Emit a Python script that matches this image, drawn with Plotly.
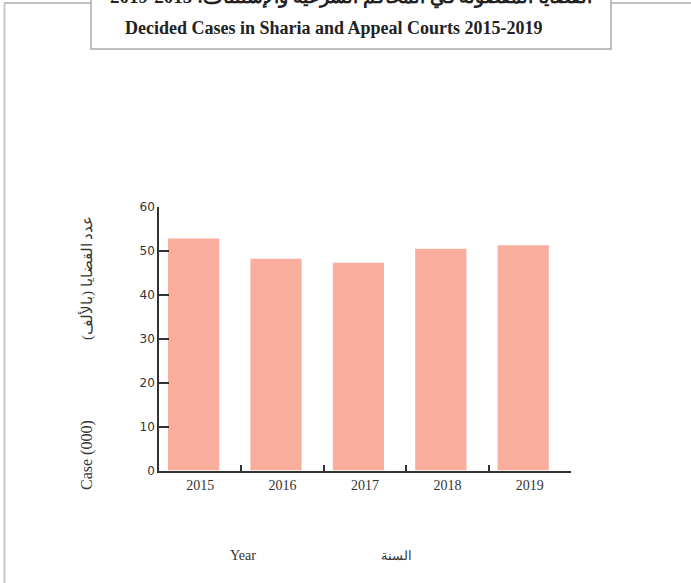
import plotly.graph_objects as go

years = ["2015", "2016", "2017", "2018", "2019"]
cases = [53.0, 48.4, 47.5, 50.7, 51.5]
y_ticks = [0, 10, 20, 30, 40, 50, 60]

title_en = "Decided Cases in Sharia and Appeal Courts 2015-2019"
title_ar = "القضايا المفصولة في المحاكم الشرعية والإستئناف: 2015-2019"
ytitle_en = "Case (000)"
ytitle_ar = "عدد القضايا (بالألف)"
xtitle_en = "Year"
xtitle_ar = "السنة"

W, H = 691, 583
L, R, T, B = 159, 120, 207, 112
pw, ph = W - L - R, H - T - B


def px(x):
    return (x - L) / pw


def py(y):
    return (H - B - y) / ph


fig = go.Figure(go.Bar(
    x=years, y=cases,
    width=0.64, offset=-0.40,
    marker=dict(color="#F8AD9D", line=dict(color="white", width=1.5)),
    hoverinfo="skip",
))

gray = "#AAAAAA"
shapes = [
    dict(type="rect", xref="paper", yref="paper", x0=px(91), x1=px(611), y0=py(49), y1=py(-10),
         line=dict(color=gray, width=1.5), fillcolor="white", layer="below"),
    dict(type="line", xref="paper", yref="paper", x0=px(4), x1=px(91), y0=py(3), y1=py(3),
         line=dict(color=gray, width=1.5)),
    dict(type="line", xref="paper", yref="paper", x0=px(611), x1=px(691), y0=py(3), y1=py(3),
         line=dict(color=gray, width=1.5)),
    dict(type="line", xref="paper", yref="paper", x0=px(4.5), x1=px(4.5), y0=py(3), y1=py(590),
         line=dict(color="#C8C8C8", width=2)),
]

serif = "Liberation Serif, Times New Roman, serif"


def ann(text, x, y, size, angle=0, bold=False):
    return dict(text=("<b>" + text + "</b>") if bold else text, x=px(x), y=py(y),
                xref="paper", yref="paper", xanchor="center", yanchor="middle",
                textangle=angle, showarrow=False,
                font=dict(family=serif, size=size, color="#222" if bold else "#333"))


annotations = [
    ann(title_en, 334, 28, 18, bold=True),
    ann(title_ar, 351, -2, 19, bold=True),
    ann(ytitle_en, 87, 455, 16, angle=-90),
    ann(ytitle_ar, 87, 278, 15, angle=-90),
    ann(xtitle_en, 243, 555, 14),
    ann(xtitle_ar, 396, 555, 13),
]

fig.update_layout(
    width=W, height=H,
    margin=dict(l=L, r=R, t=T, b=B, pad=0),
    paper_bgcolor="white", plot_bgcolor="white",
    showlegend=False,
    shapes=shapes,
    annotations=annotations,
    xaxis=dict(
        type="category", showline=True, linecolor="#333", linewidth=1.5,
        ticks="inside", tickson="boundaries", ticklen=6, tickcolor="#333", tickwidth=1.5,
        tickfont=dict(family=serif, size=14, color="#333"), showgrid=False, zeroline=False,
    ),
    yaxis=dict(
        range=[0, 60], tickvals=y_ticks, showline=True, linecolor="#333", linewidth=1.5,
        ticks="inside", ticklen=10, tickcolor="#333", tickwidth=1.5,
        tickfont=dict(family="DejaVu Sans, sans-serif", size=12, color="#333"),
        showgrid=False, zeroline=False,
    ),
)

fig.write_html(
    "out.html",
    config={"displayModeBar": False},
    post_script="document.body.style.margin='0';document.body.style.overflow='hidden';",
)
